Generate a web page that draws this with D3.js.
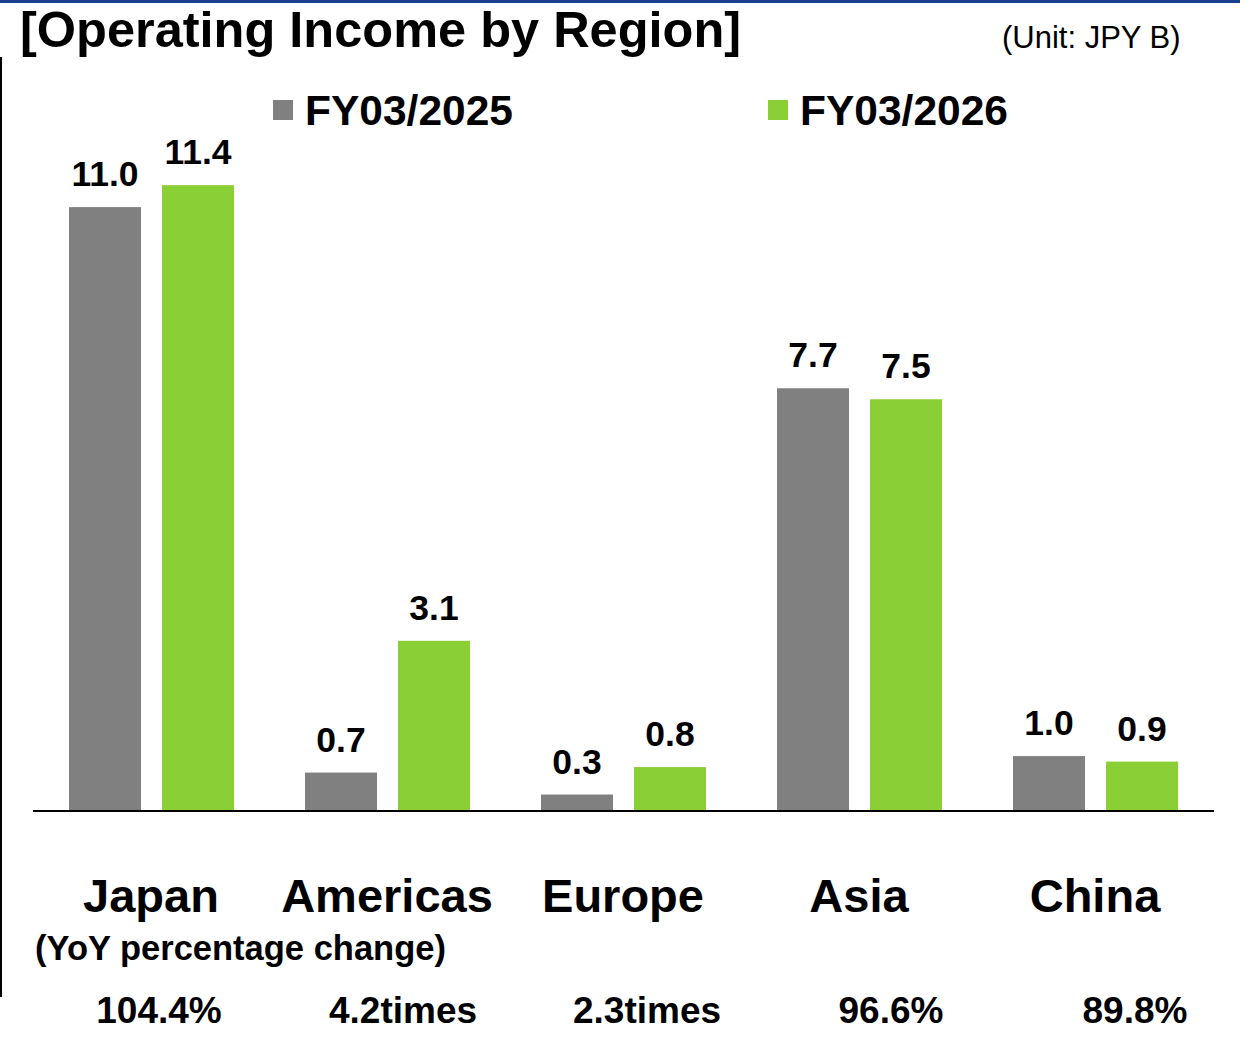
<!DOCTYPE html>
<html>
<head>
<meta charset="utf-8">
<script src="https://cdn.jsdelivr.net/npm/d3@7"></script>
<style>
  body { margin: 0; background: #fff; }
  text { font-family: "Liberation Sans", Arial, sans-serif; }
</style>
</head>
<body>
<div class="chart"></div>
<script>
var regions = ["Japan", "Americas", "Europe", "Asia", "China"];
var seriesNames = ["FY03/2025", "FY03/2026"];
var fy2025 = [11.0, 0.7, 0.3, 7.7, 1.0];
var fy2026 = [11.4, 3.1, 0.8, 7.5, 0.9];
var yoyLabels = ["104.4%", "4.2times", "2.3times", "96.6%", "89.8%"];

var w = 1254, h = 1037;
var baseY = 811; // baseline of the bars
var colors = {"FY03/2025": "#808080", "FY03/2026": "#8bcf37"};

var svg = d3.select(".chart").append("svg")
  .attr("width", w)
  .attr("height", h);

// top blue rule and left rule
svg.append("rect").attr("x", 0).attr("y", 0).attr("width", 1240).attr("height", 3).attr("fill", "#1b3f8f");
svg.append("line").attr("x1", 1).attr("x2", 1).attr("y1", 57).attr("y2", 997)
  .attr("stroke", "#000").attr("stroke-width", 2);

// title
svg.append("text").attr("x", 20).attr("y", 47)
  .style("font-size", "50.5px").style("font-weight", "bold")
  .text("[Operating Income by Region]");
svg.append("text").attr("x", 1002).attr("y", 48)
  .style("font-size", "31px")
  .text("(Unit: JPY B)");

var x0 = d3.scaleBand().domain(regions).range([33, 1213]);
var x1 = d3.scaleBand().domain(seriesNames).range([36, 201]).paddingInner(21 / 93);
var y = d3.scaleLinear().domain([0, 12]).range([baseY, baseY - 12 * 54.9]);
var fmt = d3.format(".1f");

var rows = regions.map(function(r, i) {
  return {region: r, values: [
    {key: seriesNames[0], value: fy2025[i]},
    {key: seriesNames[1], value: fy2026[i]}
  ]};
});

var groups = svg.selectAll(".group").data(rows).enter().append("g")
  .attr("class", "group")
  .attr("transform", function(d) { return "translate(" + x0(d.region) + ",0)"; });

groups.selectAll("rect").data(function(d) { return d.values; }).enter().append("rect")
  .attr("x", function(d) { return x1(d.key); })
  .attr("y", function(d) { return y(d.value); })
  .attr("width", x1.bandwidth())
  .attr("height", function(d) { return baseY - y(d.value); })
  .attr("fill", function(d) { return colors[d.key]; });

groups.selectAll(".val").data(function(d) { return d.values; }).enter().append("text")
  .attr("class", "val")
  .attr("x", function(d) { return x1(d.key) + x1.bandwidth() / 2; })
  .attr("y", function(d) { return y(d.value) - 21; })
  .attr("text-anchor", "middle")
  .style("font-size", "35.5px").style("font-weight", "bold")
  .text(function(d) { return fmt(d.value); });

// baseline
svg.append("line").attr("x1", 33).attr("x2", 1214).attr("y1", baseY).attr("y2", baseY)
  .attr("stroke", "#000").attr("stroke-width", 2);

// category labels
svg.selectAll(".cat").data(regions).enter().append("text")
  .attr("class", "cat")
  .attr("x", function(d) { return x0(d) + x0.bandwidth() / 2; })
  .attr("y", 912)
  .attr("text-anchor", "middle")
  .style("font-size", "47px").style("font-weight", "bold")
  .text(function(d) { return d; });

svg.append("text").attr("x", 35).attr("y", 960)
  .style("font-size", "34.5px").style("font-weight", "bold")
  .text("(YoY percentage change)");

var xYoy = d3.scalePoint().domain(regions).range([159, 1135]);
svg.selectAll(".yoy").data(regions).enter().append("text")
  .attr("class", "yoy")
  .attr("x", function(d) { return xYoy(d); })
  .attr("y", 1023)
  .attr("text-anchor", "middle")
  .style("font-size", "37px").style("font-weight", "bold")
  .text(function(d, i) { return yoyLabels[i]; });

// legend
var legendX = d3.scaleOrdinal().domain(seriesNames).range([273, 768]);
var legend = svg.selectAll(".legend").data(seriesNames).enter().append("g")
  .attr("class", "legend")
  .attr("transform", function(d) { return "translate(" + legendX(d) + ",100)"; });
legend.append("rect").attr("width", 20).attr("height", 20)
  .attr("fill", function(d) { return colors[d]; });
legend.append("text").attr("x", 32).attr("y", 25)
  .style("font-size", "42.5px").style("font-weight", "bold")
  .text(function(d) { return d; });
</script>
</body>
</html>
